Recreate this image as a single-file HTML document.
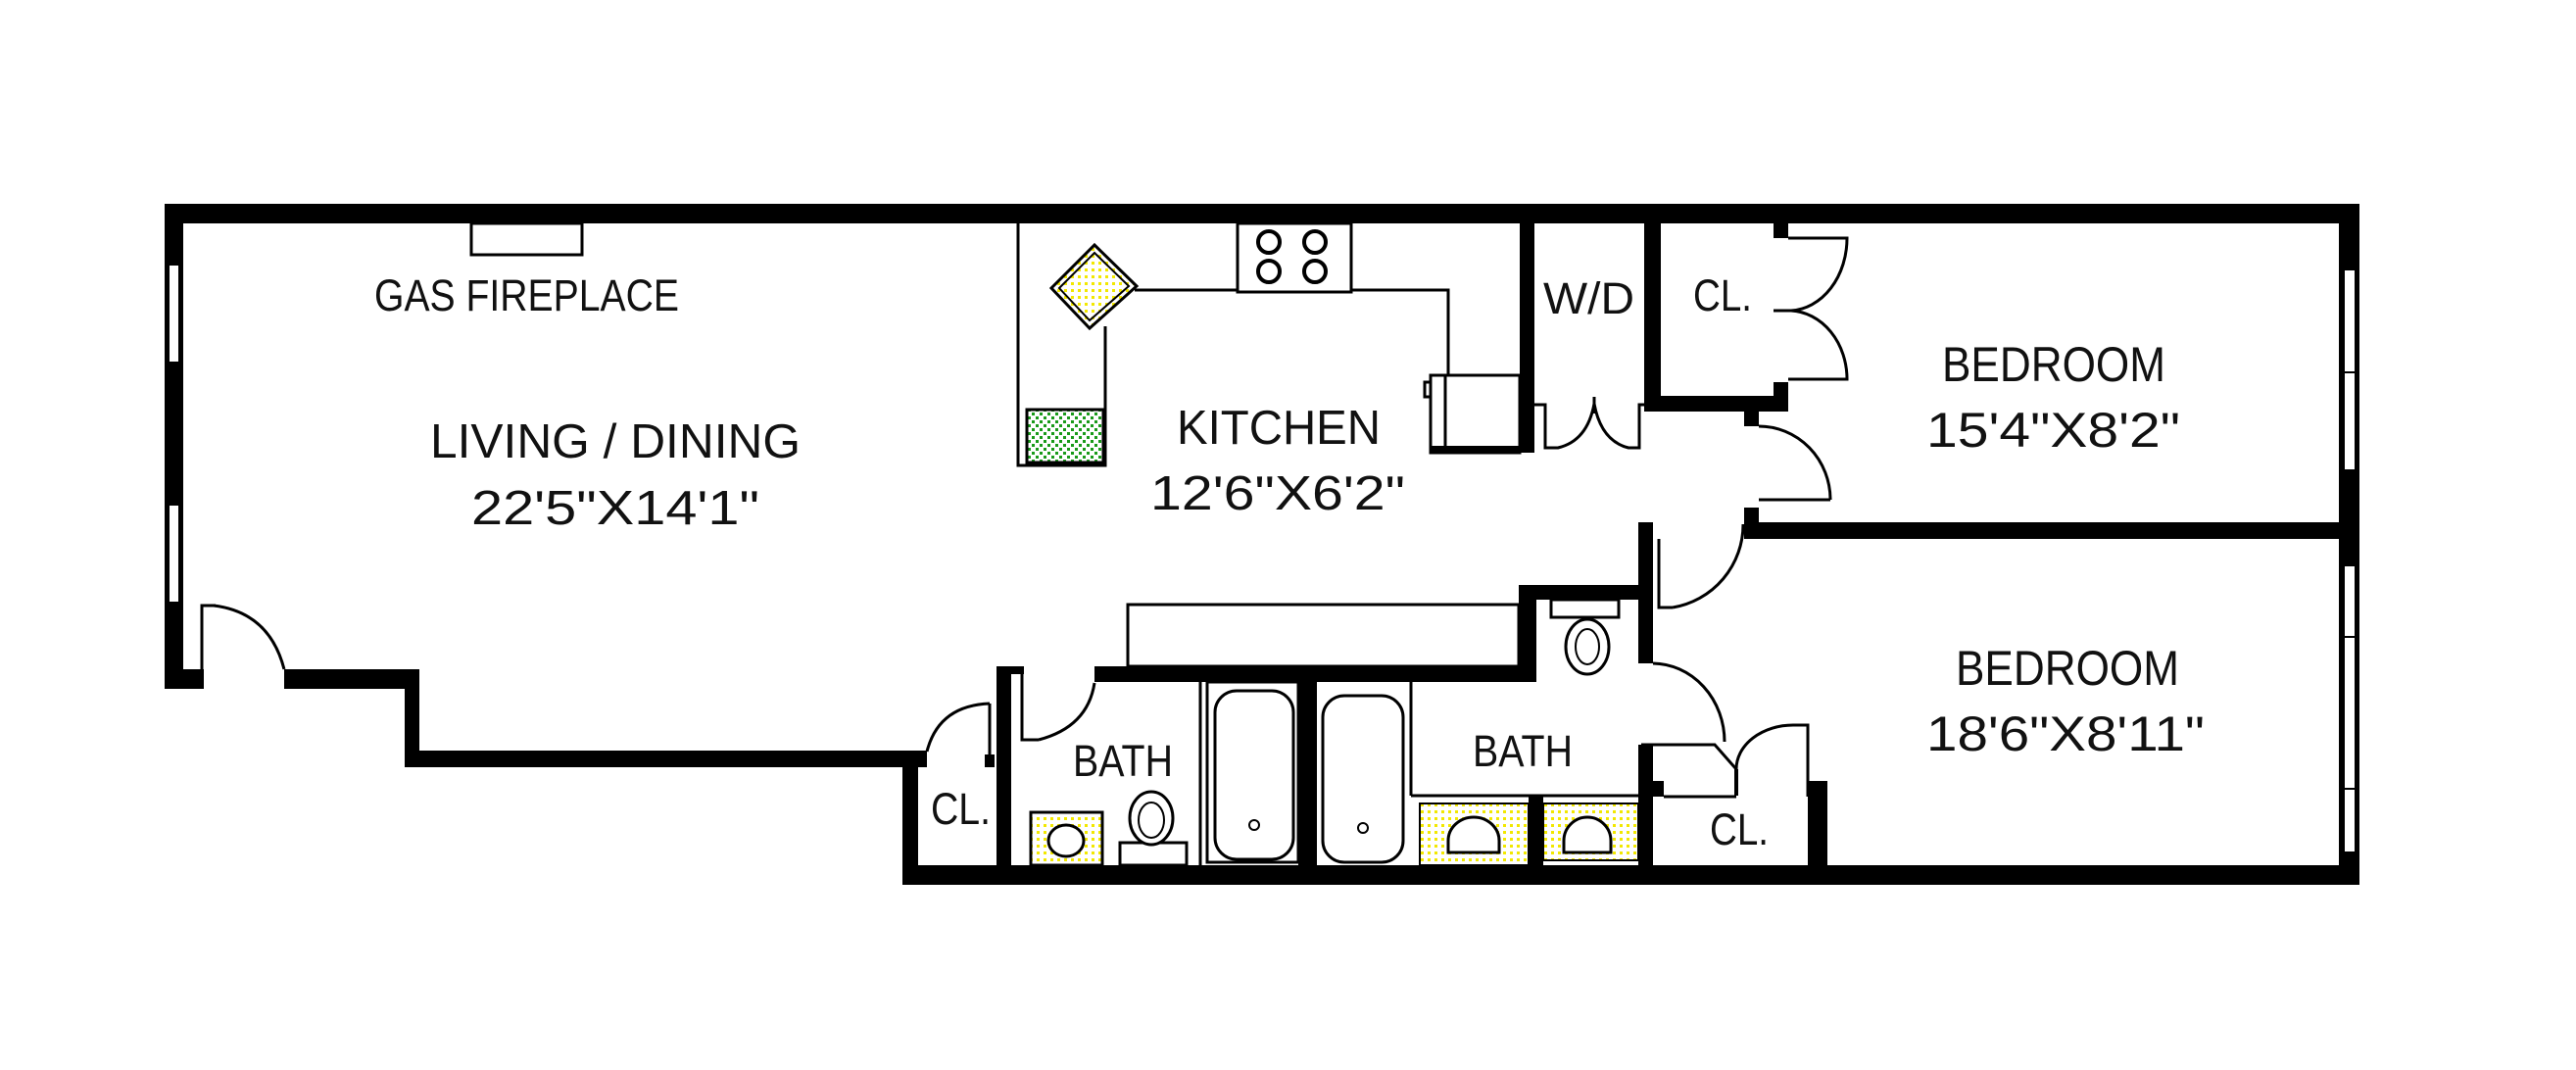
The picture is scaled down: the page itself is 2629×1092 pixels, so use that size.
<!DOCTYPE html>
<html><head><meta charset="utf-8"><style>html,body{margin:0;padding:0;background:#fff}svg{display:block}</style></head>
<body>
<svg width="2629" height="1092" viewBox="0 0 2629 1092" xmlns="http://www.w3.org/2000/svg">
<defs>
<pattern id="yd" width="7" height="7" patternUnits="userSpaceOnUse"><rect width="7" height="7" fill="#fff"/><rect x="1" y="1" width="3" height="3" fill="#f2e800"/></pattern>
<pattern id="gd" width="8" height="8" patternUnits="userSpaceOnUse"><rect width="8" height="8" fill="#fff"/><rect x="1" y="1" width="3" height="3" fill="#1a9a1a"/><rect x="5" y="5" width="3" height="3" fill="#1a9a1a"/></pattern>
</defs>
<rect width="2629" height="1092" fill="#fff"/>
<g fill="#000">
<rect x="168" y="208" width="2240" height="20"/>
<rect x="168" y="208" width="19" height="495"/>
<rect x="168" y="683" width="40" height="20"/>
<rect x="290" y="683" width="138" height="20"/>
<rect x="413" y="683" width="15" height="99"/>
<rect x="413" y="766" width="533" height="17"/>
<rect x="921" y="766" width="16" height="137"/>
<rect x="921" y="883" width="1487" height="20"/>
<rect x="2387" y="208" width="21" height="695"/>
<rect x="1005" y="770" width="10" height="13"/>
<rect x="1017" y="680" width="15" height="203"/>
<rect x="1017" y="680" width="28" height="8"/>
<rect x="1117" y="680" width="451" height="16"/>
<rect x="1550" y="597" width="18" height="99"/>
<rect x="1550" y="597" width="137" height="15"/>
<rect x="1672" y="533" width="15" height="144"/>
<rect x="1672" y="760" width="15" height="123"/>
<rect x="1687" y="797" width="11" height="16"/>
<rect x="1845" y="797" width="20" height="86"/>
<rect x="1780" y="533" width="628" height="17"/>
<rect x="1780" y="518" width="15" height="15"/>
<rect x="1780" y="420" width="15" height="15"/>
<rect x="1678" y="404" width="147" height="16"/>
<rect x="1810" y="390" width="15" height="14"/>
<rect x="1678" y="228" width="17" height="192"/>
<rect x="1810" y="228" width="15" height="15"/>
<rect x="1551" y="228" width="15" height="234"/>
<rect x="1460" y="455" width="106" height="7"/>
<rect x="1325" y="696" width="19" height="187"/>
<rect x="1560" y="812" width="15" height="71"/>
</g>
<g fill="#fff" stroke="#000" stroke-width="2">
<rect x="172" y="270" width="11" height="100"/>
<rect x="172" y="515" width="11" height="100"/>
<rect x="2392" y="275" width="12" height="105"/>
<rect x="2392" y="380" width="12" height="100"/>
<rect x="2392" y="577" width="12" height="73"/>
<rect x="2392" y="650" width="12" height="155"/>
<rect x="2392" y="805" width="12" height="65"/>
</g>
<g fill="none" stroke="#000" stroke-width="3">
<path d="M206 683 V618 H220"/>
<path d="M218 618 Q275 625 290 683"/>
<path d="M1010 718 V783"/>
<path d="M946 767 Q958 720 1010 718"/>
<path d="M1043 687 V755 H1060"/>
<path d="M1060 755 Q1110 742 1117 697"/>
<rect x="1151" y="617" width="399" height="63"/>
<path d="M1693 550 V620 H1707"/>
<path d="M1707 620 A86 86 0 0 0 1779 535"/>
<path d="M1687 677 A74 80 0 0 1 1760 757"/>
<path d="M1675 760 H1750 L1772 785"/>
<path d="M1772 785 V812" stroke-width="4"/>
<path d="M1772 785 A58 45 0 0 1 1830 740 H1845 V813"/>
<path d="M1698 813 H1772"/>
<path d="M1795 510 H1868"/>
<path d="M1795 435 A73 75 0 0 1 1868 510"/>
<path d="M1825 243 H1885 A60 74 0 0 1 1828 317"/>
<path d="M1825 387 H1885 A60 70 0 0 0 1828 317"/>
<path d="M1810 317 H1832"/>
<path d="M1566 413 H1577 V457 H1590 Q1620 450 1627 412"/>
<path d="M1627 405 V422"/>
<path d="M1627 412 Q1634 450 1662 457 H1673 V413 H1678"/>
<path d="M1039 228 V475 H1128 V333"/>
<rect x="1048" y="418" width="78" height="54" fill="url(#gd)"/>
<path d="M1158 296 H1263"/>
<rect x="1263" y="228" width="116" height="70"/>
<path d="M1379 296 H1478 V383"/>
<rect x="1460" y="383" width="91" height="79"/>
<path d="M1475 383 V455"/>
<path d="M1460 390 h-6 v15 h6"/>
<rect x="481" y="228" width="113" height="32"/>
<path d="M1225 696 V883"/>
<rect x="1232" y="696" width="93" height="184"/>
<rect x="1240" y="705" width="80" height="172" rx="22"/>
<rect x="1350" y="710" width="82" height="170" rx="22"/>
<path d="M1440 696 V812"/>
<path d="M1440 812 H1672"/>
</g>
<polygon points="1117,250 1160,292 1112,335 1073,294" fill="url(#yd)" stroke="#000" stroke-width="3"/>
<polygon points="1117,258 1152,292 1112,327 1081,294" fill="none" stroke="#000" stroke-width="2"/>
<g fill="none" stroke="#000" stroke-width="4">
<circle cx="1295" cy="247" r="11"/><circle cx="1342" cy="247" r="11"/>
<circle cx="1295" cy="277" r="11"/><circle cx="1342" cy="277" r="11"/>
</g>
<g fill="none" stroke="#000" stroke-width="2">
<circle cx="1280" cy="842" r="5"/><circle cx="1391" cy="845" r="5"/>
</g>
<rect x="1052" y="829" width="73" height="54" fill="url(#yd)" stroke="#000" stroke-width="3"/>
<ellipse cx="1088" cy="858" rx="18" ry="16" fill="#fff" stroke="#000" stroke-width="3"/>
<rect x="1143" y="860" width="68" height="23" fill="#fff" stroke="#000" stroke-width="3"/>
<ellipse cx="1175" cy="835" rx="22" ry="27" fill="#fff" stroke="#000" stroke-width="3"/>
<ellipse cx="1175" cy="837" rx="13" ry="18" fill="none" stroke="#000" stroke-width="2"/>
<rect x="1449" y="820" width="111" height="63" fill="url(#yd)" stroke="#000" stroke-width="2"/>
<rect x="1575" y="820" width="97" height="58" fill="url(#yd)" stroke="#000" stroke-width="2"/>
<path d="M1478 858 A26 24 0 0 1 1530 858 V870 H1478 Z" fill="#fff" stroke="#000" stroke-width="3"/>
<path d="M1596 858 A24 24 0 0 1 1644 858 V870 H1596 Z" fill="#fff" stroke="#000" stroke-width="3"/>
<rect x="1583" y="612" width="69" height="18" fill="#fff" stroke="#000" stroke-width="3"/>
<ellipse cx="1620" cy="660" rx="22" ry="28" fill="#fff" stroke="#000" stroke-width="3"/>
<ellipse cx="1620" cy="660" rx="12" ry="18" fill="none" stroke="#000" stroke-width="2"/>
<g font-family="Liberation Sans, DejaVu Sans, sans-serif" fill="#111">
<text x="382" y="317" font-size="45" textLength="311" lengthAdjust="spacingAndGlyphs">GAS FIREPLACE</text>
<text x="439" y="467" font-size="49" textLength="378" lengthAdjust="spacingAndGlyphs">LIVING / DINING</text>
<text x="481" y="535" font-size="49" textLength="294" lengthAdjust="spacingAndGlyphs">22'5"X14'1"</text>
<text x="1201" y="453" font-size="49" textLength="208" lengthAdjust="spacingAndGlyphs">KITCHEN</text>
<text x="1174" y="520" font-size="49" textLength="260" lengthAdjust="spacingAndGlyphs">12'6"X6'2"</text>
<text x="1575" y="320" font-size="45" textLength="93" lengthAdjust="spacingAndGlyphs">W/D</text>
<text x="1728" y="317" font-size="45" textLength="60" lengthAdjust="spacingAndGlyphs">CL.</text>
<text x="1982" y="389" font-size="50" textLength="228" lengthAdjust="spacingAndGlyphs">BEDROOM</text>
<text x="1966" y="456" font-size="50" textLength="259" lengthAdjust="spacingAndGlyphs">15'4"X8'2"</text>
<text x="1996" y="699" font-size="50" textLength="228" lengthAdjust="spacingAndGlyphs">BEDROOM</text>
<text x="1966" y="766" font-size="50" textLength="284" lengthAdjust="spacingAndGlyphs">18'6"X8'11"</text>
<text x="1095" y="792" font-size="45" textLength="102" lengthAdjust="spacingAndGlyphs">BATH</text>
<text x="1503" y="782" font-size="45" textLength="102" lengthAdjust="spacingAndGlyphs">BATH</text>
<text x="950" y="841" font-size="45" textLength="61" lengthAdjust="spacingAndGlyphs">CL.</text>
<text x="1745" y="862" font-size="45" textLength="60" lengthAdjust="spacingAndGlyphs">CL.</text>
</g>
</svg>
</body></html>
